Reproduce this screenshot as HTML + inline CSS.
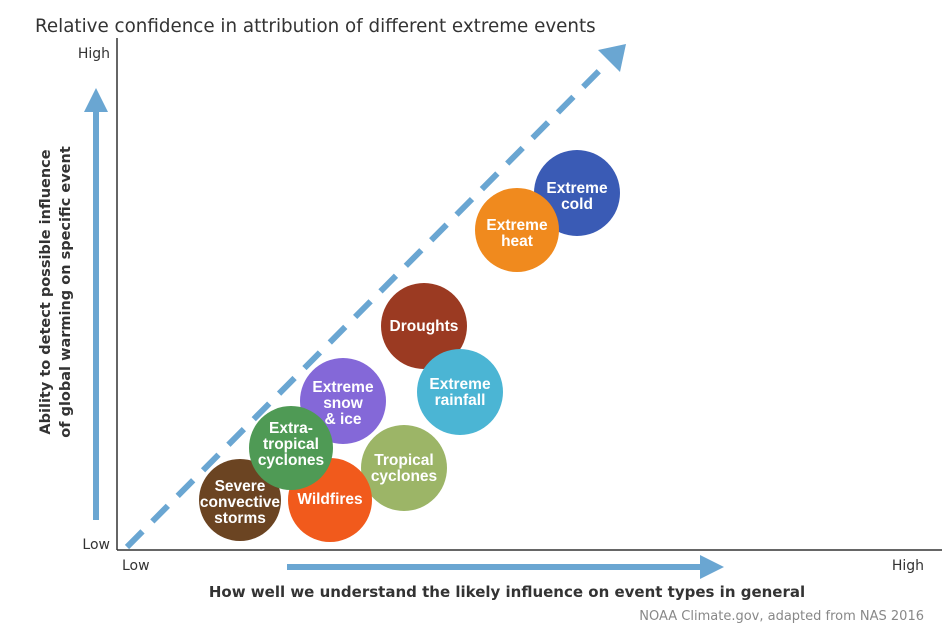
<!DOCTYPE html>
<html><head><meta charset="utf-8"><style>
body{margin:0;background:#fff;}
svg{display:block;font-family:"DejaVu Sans","Liberation Sans",sans-serif;}
</style></head><body>
<svg width="948" height="633" viewBox="0 0 948 633">
<defs>
<marker id="ah" markerWidth="4" markerHeight="4" refX="2" refY="2" orient="auto" markerUnits="strokeWidth"><path d="M0,0 L4,2 L0,4 Z" fill="#6aa6d2"/></marker>
</defs>
<text x="35" y="32" font-size="18.3" fill="#333">Relative confidence in attribution of different extreme events</text>
<line x1="117" y1="38" x2="117" y2="550" stroke="#333" stroke-width="1.5"/>
<line x1="117" y1="550" x2="942" y2="550" stroke="#333" stroke-width="1.5"/>
<text x="110" y="58" font-size="14" fill="#333" text-anchor="end">High</text>
<text x="110" y="549" font-size="14" fill="#333" text-anchor="end">Low</text>
<text x="122" y="570" font-size="14" fill="#333">Low</text>
<text x="924" y="570" font-size="14" fill="#333" text-anchor="end">High</text>
<line x1="96" y1="520" x2="96" y2="100" stroke="#6aa6d2" stroke-width="6" marker-end="url(#ah)"/>
<line x1="287" y1="567" x2="712" y2="567" stroke="#6aa6d2" stroke-width="6" marker-end="url(#ah)"/>
<line x1="127" y1="547" x2="600" y2="70" stroke="#6aa6d2" stroke-width="6" stroke-dasharray="22,14"/>
<path d="M626,44 L620,72 L598,50 Z" fill="#6aa6d2"/>
<text transform="translate(50,292) rotate(-90)" font-size="14.5" font-weight="bold" fill="#333" text-anchor="middle">Ability to detect possible influence</text>
<text transform="translate(70,292) rotate(-90)" font-size="14.5" font-weight="bold" fill="#333" text-anchor="middle">of global warming on specific event</text>
<text x="507" y="597" font-size="15" font-weight="bold" fill="#333" text-anchor="middle">How well we understand the likely influence on event types in general</text>
<text x="924" y="620" font-size="13" fill="#888" text-anchor="end">NOAA Climate.gov, adapted from NAS 2016</text>
<g font-size="15.5" font-weight="bold" fill="#fff" text-anchor="middle" font-family="Liberation Sans, sans-serif">
<circle cx="577" cy="193" r="43" fill="#3a5bb5"/>
<text x="577" y="193">Extreme</text><text x="577" y="209">cold</text>
<circle cx="517" cy="230" r="42" fill="#f08a1e"/>
<text x="517" y="230">Extreme</text><text x="517" y="246">heat</text>
<circle cx="424" cy="326" r="43" fill="#9b3a22"/>
<text x="424" y="331">Droughts</text>
<circle cx="460" cy="392" r="43" fill="#4bb5d4"/>
<text x="460" y="389">Extreme</text><text x="460" y="405">rainfall</text>
<circle cx="343" cy="401" r="43" fill="#8468d8"/>
<text x="343" y="392">Extreme</text><text x="343" y="408">snow</text><text x="343" y="424">&amp; ice</text>
<circle cx="404" cy="468" r="43" fill="#9cb567"/>
<text x="404" y="465">Tropical</text><text x="404" y="481">cyclones</text>
<circle cx="330" cy="500" r="42" fill="#f15a1c"/>
<text x="330" y="504">Wildfires</text>
<circle cx="240" cy="500" r="41" fill="#6b4422"/>
<text x="240" y="491">Severe</text><text x="240" y="507">convective</text><text x="240" y="523">storms</text>
<circle cx="291" cy="448" r="42" fill="#4f9a55"/>
<text x="291" y="433">Extra-</text><text x="291" y="449">tropical</text><text x="291" y="465">cyclones</text>
</g>
</svg>
</body></html>
